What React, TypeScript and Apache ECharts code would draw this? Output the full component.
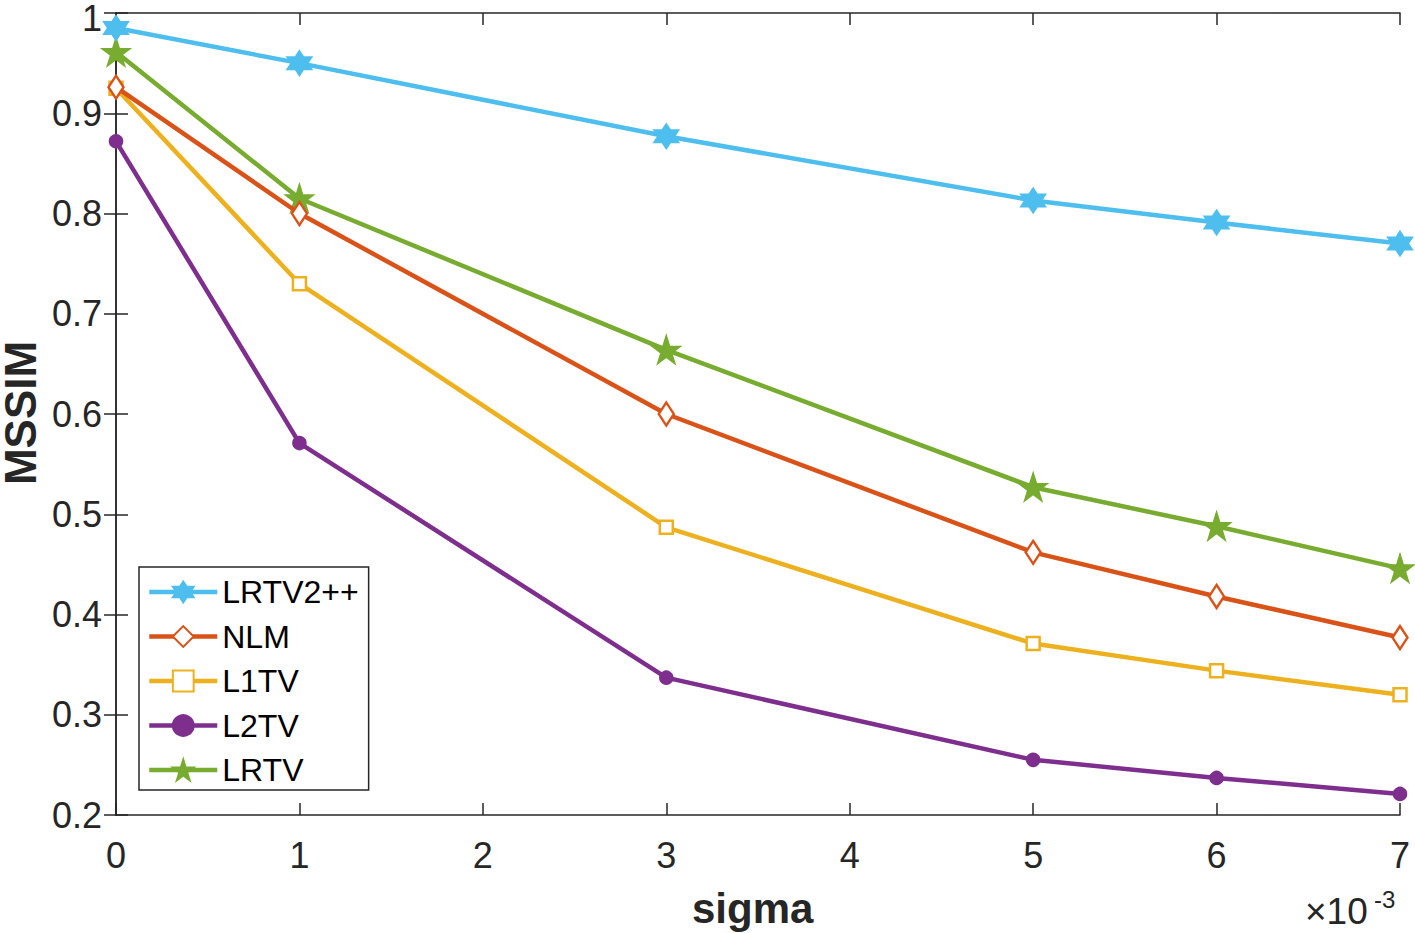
import React, { useEffect, useRef } from "react";
import * as echarts from "echarts";

const sigmaValues = [0, 1, 3, 5, 6, 7];
const xTicks = [0, 1, 2, 3, 4, 5, 6, 7];
const seriesNames = ["LRTV2++", "NLM", "L1TV", "L2TV", "LRTV"];
const lrtv2pp = [0.985, 0.95, 0.877, 0.813, 0.791, 0.77];
const nlm = [0.926, 0.8, 0.6, 0.462, 0.418, 0.377];
const l1tv = [0.925, 0.73, 0.487, 0.371, 0.344, 0.32];
const l2tv = [0.872, 0.571, 0.337, 0.255, 0.237, 0.221];
const lrtv = [0.961, 0.815, 0.664, 0.527, 0.488, 0.446];

const colors = ["#4DBEEE", "#D95319", "#EDB120", "#7E2F8E", "#77AC30"];

const HEXAGRAM =
  "path://M0,-10 L2.887,-5 L8.66,-5 L5.77,0 L8.66,5 L2.887,5 L0,10 L-2.887,5 L-8.66,5 L-5.77,0 L-8.66,-5 L-2.887,-5 Z";
const PENTAGRAM =
  "path://M0,-10 L2.245,-3.09 L9.51,-3.09 L3.633,1.18 L5.88,8.09 L0,3.82 L-5.88,8.09 L-3.633,1.18 L-9.51,-3.09 L-2.245,-3.09 Z";

export default function App() {
  const ref = useRef<HTMLDivElement>(null);
  useEffect(() => {
    const chart = echarts.init(ref.current!, null, { renderer: "svg" });
    const FONT = "'Liberation Sans', Arial, sans-serif";
    const mk = (vals: number[]) => vals.map((v, i) => [sigmaValues[i], v]);
    const datasets = [lrtv2pp, nlm, l1tv, l2tv, lrtv];
    const symbols: any[] = [HEXAGRAM, "diamond", "rect", "circle", PENTAGRAM];
    const sizes: any[] = [[23, 23], [15, 23], [13, 13], [12, 12], [25, 25]];
    const fills = [colors[0], "#ffffff", "#ffffff", colors[3], colors[4]];

    const series = datasets.map((d, i) => ({
      name: seriesNames[i],
      type: "line",
      data: mk(d),
      xAxisIndex: 0,
      yAxisIndex: 0,
      symbol: symbols[i],
      symbolSize: sizes[i],
      symbolKeepAspect: false,
      showAllSymbol: true,
      lineStyle: { color: colors[i], width: 4.5 },
      itemStyle: { color: fills[i], borderColor: colors[i], borderWidth: 2.5 },
      z: 10 - i,
    }));

    const axisLine = { show: true, lineStyle: { color: "#262626", width: 1.5 } };
    const tick = { show: true, inside: true, length: 12, lineStyle: { color: "#262626", width: 1.5 } };

    chart.setOption({
      animation: false,
      backgroundColor: "#ffffff",
      grid: {
        left: 116,
        right: 15,
        top: 13,
        bottom: 118,
        containLabel: false,
        outerBoundsMode: "none",
      },
      xAxis: [
        {
          type: "value",
          min: 0,
          max: 7,
          interval: 1,
          axisLine,
          axisTick: tick,
          splitLine: { show: false },
          axisLabel: {
            color: "#262626",
            fontSize: 36,
            fontFamily: FONT,
            margin: 22,
            formatter: (v: number) => (xTicks.includes(v) ? String(v) : ""),
          },
        },
        {
          type: "value",
          position: "top",
          min: 0,
          max: 7,
          interval: 1,
          axisLine,
          axisTick: tick,
          splitLine: { show: false },
          axisLabel: { show: false },
        },
      ],
      yAxis: [
        {
          type: "value",
          min: 0.2,
          max: 1,
          interval: 0.1,
          axisLine,
          axisTick: tick,
          splitLine: { show: false },
          axisLabel: {
            color: "#262626",
            fontSize: 36,
            fontFamily: FONT,
            margin: 14,
            formatter: (v: number) => {
              const s = String(+v.toFixed(1));
              return v >= 0.999 ? `{top|${s}}` : s;
            },
            rich: {
              top: {
                fontSize: 36,
                fontFamily: FONT,
                color: "#262626",
                padding: [10, 0, 0, 0],
              },
            },
          },
        },
        {
          type: "value",
          position: "right",
          min: 0.2,
          max: 1,
          interval: 0.1,
          axisLine,
          axisTick: tick,
          splitLine: { show: false },
          axisLabel: { show: false },
        },
      ],
      legend: {
        orient: "vertical",
        left: 139,
        top: 567,
        data: seriesNames,
        itemWidth: 68,
        itemHeight: 26,
        itemGap: 12.5,
        itemTextGap: 6,
        padding: [9, 10, 4, 8],
        borderColor: "#262626",
        borderWidth: 1.5,
        backgroundColor: "#ffffff",
        lineStyle: { width: "inherit" },
        textStyle: { fontSize: 32, fontFamily: FONT, color: "#000000" },
      },
      graphic: [
        {
          type: "text",
          x: 692,
          y: 908,
          style: {
            text: "sigma",
            font: `bold 42px ${FONT}`,
            fill: "#262626",
            verticalAlign: "middle",
          },
        },
        {
          type: "text",
          x: 20,
          y: 413,
          rotation: Math.PI / 2,
          style: {
            text: "MSSIM",
            font: `bold 44px ${FONT}`,
            fill: "#262626",
            align: "center",
            verticalAlign: "middle",
          },
        },
        {
          type: "text",
          x: 1305,
          y: 911,
          style: {
            text: "×10",
            font: `37px ${FONT}`,
            fill: "#262626",
            verticalAlign: "middle",
          },
        },
        {
          type: "text",
          x: 1374,
          y: 899,
          style: {
            text: "-3",
            font: `24px ${FONT}`,
            fill: "#262626",
            verticalAlign: "middle",
          },
        },
      ],
      series,
    });
    return () => chart.dispose();
  }, []);
  return (
    <div
      ref={ref}
      style={{ position: "fixed", left: 0, top: 0, width: 1415, height: 933 }}
    />
  );
}
